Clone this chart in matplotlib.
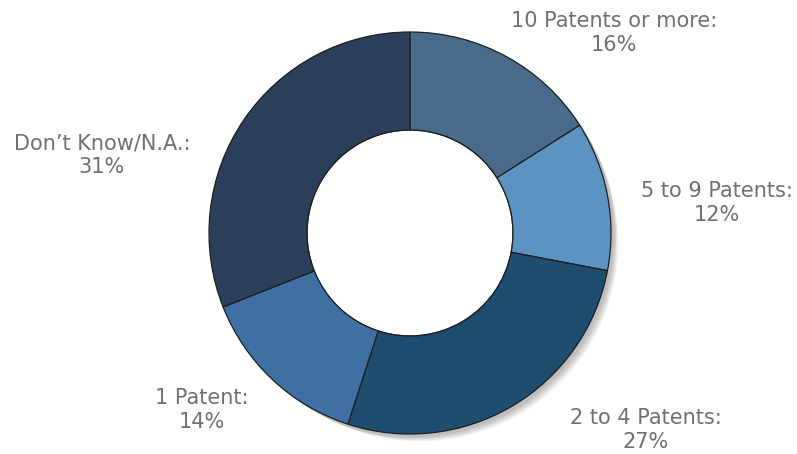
import matplotlib
matplotlib.use("Agg")
import matplotlib.pyplot as plt
from matplotlib.patches import Wedge, Circle

categories = ["10 Patents or more", "5 to 9 Patents", "2 to 4 Patents", "1 Patent", "Don\u2019t Know/N.A."]
values = [16, 12, 27, 14, 31]
colors = ["#486b8c", "#5d93c2", "#1f4d70", "#4070a3", "#2b3f5b"]
label_pos = [(614, 33), (717, 203), (646, 430), (202, 410), (102, 155)]

W, H = 797, 454
fig = plt.figure(figsize=(W / 100, H / 100), dpi=100)
ax = fig.add_axes([0, 0, 1, 1])

cx, cy = 410, H - 233
R, r = 201, 103

ax.pie(values, colors=colors, startangle=90, counterclock=False,
       center=(cx, cy), radius=R,
       wedgeprops=dict(width=R - r, edgecolor="#1e1e1e", linewidth=0.9, zorder=3),
       frame=True)

# soft shadow toward lower-right
for i in range(10):
    off = 2 + i * 0.9
    ax.add_patch(Circle((cx + off, cy - off), R + 1 - i * 0.4,
                        facecolor="#000000", alpha=0.028, edgecolor="none", zorder=1))
ax.add_patch(Circle((cx, cy), r, facecolor="white", edgecolor="#1e1e1e",
                    linewidth=0.9, zorder=2))

ax.set_xlim(0, W)
ax.set_ylim(0, H)
ax.set_aspect("equal")
ax.axis("off")

for cat, v, (x, y) in zip(categories, values, label_pos):
    ax.text(x, H - y, f"{cat}:\n{v}%", ha="center", va="center", fontsize=15,
            color="#707070", linespacing=1.2, family="DejaVu Sans")

fig.savefig("out.png", dpi=100, facecolor="white")
